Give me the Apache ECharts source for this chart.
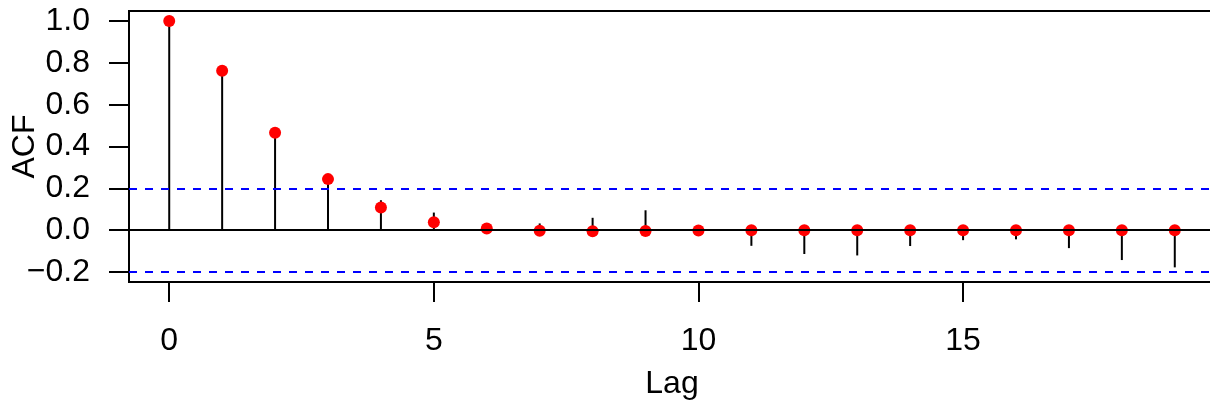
<!DOCTYPE html>
<html>
<head>
<meta charset="utf-8">
<script src="https://cdn.jsdelivr.net/npm/echarts@6/dist/echarts.min.js"></script>
<style>
  html, body { margin: 0; padding: 0; background: #fff; }
  #chart { width: 1210px; height: 406px; }
</style>
</head>
<body>
<div id="chart"></div>
<script>
// lags and sample acf (black stems), fitted/theoretical acf (red points)
const lags = [0, 1, 2, 3, 4, 5, 6, 7, 8, 9, 10, 11, 12, 13, 14, 15, 16, 17, 18, 19]
const acfSample = [1.0, 0.755, 0.46, 0.235, 0.143, 0.084, 0.032, 0.032, 0.059, 0.095, 0.005, -0.075, -0.114, -0.121, -0.076, -0.048, -0.044, -0.086, -0.143, -0.178]
const acfModel = [1.0, 0.762, 0.466, 0.244, 0.108, 0.038, 0.008, -0.003, -0.005, -0.004, -0.002, -0.001, 0, 0, 0, 0, 0, 0, 0, 0]
const clim = 0.2
const xTicks = [0, 5, 10, 15]
const yTicks = [-0.2, 0, 0.2, 0.4, 0.6, 0.8, 1.0]

const font = 'Liberation Sans, Arial, Helvetica, sans-serif'
const chart = echarts.init(document.getElementById('chart'))

chart.setOption({
  animation: false,
  grid: {
    left: 129,
    top: 11,
    width: 1086,
    height: 271,
    containLabel: false,
    outerBoundsMode: 'none',
    show: true,
    borderColor: '#000',
    borderWidth: 2,
    backgroundColor: 'transparent'
  },
  xAxis: {
    type: 'value',
    min: -0.76,
    max: 19.76,
    name: 'Lag',
    nameLocation: 'middle',
    nameGap: 86,
    nameMoveOverlap: false,
    nameTextStyle: { fontFamily: font, fontSize: 32, color: '#000' },
    axisLine: { show: false, onZero: false },
    splitLine: { show: false },
    axisTick: {
      show: true,
      length: 20,
      customValues: xTicks,
      lineStyle: { color: '#000', width: 2 }
    },
    axisLabel: {
      customValues: xTicks,
      margin: 43,
      fontFamily: font,
      fontSize: 32,
      color: '#000'
    }
  },
  yAxis: {
    type: 'value',
    min: -0.248,
    max: 1.048,
    name: 'ACF',
    nameLocation: 'middle',
    nameGap: 88,
    nameMoveOverlap: false,
    nameTextStyle: { fontFamily: font, fontSize: 32, color: '#000' },
    axisLine: { show: false, onZero: false },
    splitLine: { show: false },
    axisTick: {
      show: true,
      length: 20,
      customValues: yTicks,
      lineStyle: { color: '#000', width: 2 }
    },
    axisLabel: {
      customValues: yTicks,
      margin: 39,
      fontFamily: font,
      fontSize: 32,
      color: '#000',
      formatter: v => v.toFixed(1).replace('-', '\u2212')
    }
  },
  series: [
    {
      type: 'custom',
      data: lags.map((l, i) => [l, acfSample[i]]),
      renderItem: (params, api) => {
        const a = api.coord([api.value(0), 0])
        const b = api.coord([api.value(0), api.value(1)])
        return {
          type: 'line',
          shape: { x1: a[0], y1: a[1], x2: b[0], y2: b[1] },
          style: { stroke: '#000', lineWidth: 2 }
        }
      },
      markLine: {
        silent: true,
        symbol: 'none',
        label: { show: false },
        data: [
          { yAxis: 0, lineStyle: { color: '#000', width: 2, type: 'solid' } },
          { yAxis: clim, lineStyle: { color: '#0000ff', width: 2, type: [8, 8] } },
          { yAxis: -clim, lineStyle: { color: '#0000ff', width: 2, type: [8, 8] } }
        ]
      },
      z: 2
    },
    {
      type: 'scatter',
      data: lags.map((l, i) => [l, acfModel[i]]),
      symbol: 'circle',
      symbolSize: 12,
      itemStyle: { color: '#ff0000', opacity: 1 },
      z: 3
    }
  ]
})
</script>
</body>
</html>
